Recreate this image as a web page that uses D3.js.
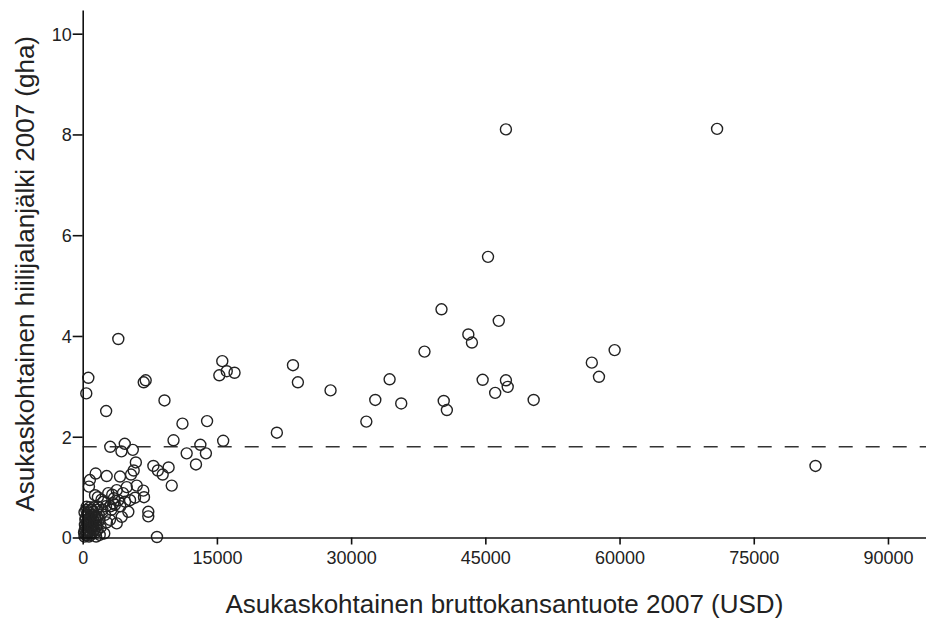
<!DOCTYPE html>
<html>
<head>
<meta charset="utf-8">
<script src="https://cdn.jsdelivr.net/npm/d3@7"></script>
<style>
	body { margin: 0; background: white; }
	text { font-family: Arial, "Liberation Sans", sans-serif; fill: #222; }
</style>
</head>
<body>
<div id="outer"></div>
<script>

////////////////////////////////////////////////////////////////
	// DATA
////////////////////////////////////////////////////////////////
const gdpPerCapita = [
	47300, 70900, 45300, 40100, 46500, 43100, 43500, 38200, 34300, 35600,
	44700, 47300, 47500, 46100, 50400, 40350, 40700, 56900, 59450, 57700,
	81900, 23500, 24050, 27700, 32700, 31700, 21700, 15600, 16100, 15270,
	16970, 9140, 11150, 13900, 10150, 15700, 13150, 11620, 13770, 12660,
	9600, 8940, 9950, 8300, 3980, 630, 400, 6820, 7040, 2620,
	4700, 3080, 4330, 5600, 5940, 5700, 7900, 8400, 7330, 7330,
	1450, 2680, 800, 4170, 5400, 700, 3800, 6040, 6770, 5850,
	6850, 2860, 2300, 1380, 4730, 3980, 5100, 4360, 3800, 2490,
	2410, 630, 1180, 450, 1740, 4920, 5290, 3420, 3050, 1180,
	300, 400, 500, 600, 700, 800, 900, 1000, 1100, 1200,
	350, 450, 550, 650, 750, 850, 950, 1050, 1300, 1400,
	1500, 1600, 1700, 1800, 2000, 250, 300, 600, 900, 1250,
	2200, 1900, 1500, 700, 200, 2700, 2600, 3200, 3600, 2100,
	1700, 3100, 3500, 4200, 3300, 4500,
	150, 250, 350, 450, 550, 650, 750, 850, 950, 1050,
	1150, 1350, 1450, 1650, 1850, 200, 400, 800, 1100, 1600
];

const footprintPerCapita = [
	8.10, 8.11, 5.57, 4.53, 4.30, 4.03, 3.87, 3.69, 3.14, 2.66,
	3.13, 3.12, 2.99, 2.87, 2.73, 2.71, 2.53, 3.47, 3.72, 3.19,
	1.42, 3.42, 3.08, 2.92, 2.73, 2.30, 2.08, 3.50, 3.30, 3.22,
	3.27, 2.72, 2.26, 2.31, 1.93, 1.92, 1.84, 1.67, 1.67, 1.45,
	1.39, 1.25, 1.03, 0.01, 3.94, 3.17, 2.86, 3.08, 3.12, 2.51,
	1.86, 1.80, 1.71, 1.74, 1.49, 1.33, 1.42, 1.33, 0.51, 0.42,
	1.27, 1.22, 1.14, 1.21, 1.25, 1.01, 0.94, 1.03, 0.93, 0.79,
	0.80, 0.88, 0.71, 0.84, 0.71, 0.74, 0.51, 0.41, 0.28, 0.45,
	0.08, 0.28, 0.51, 0.61, 0.61, 1.00, 0.74, 0.68, 0.35, 0.35,
	0.05, 0.10, 0.08, 0.15, 0.12, 0.20, 0.05, 0.18, 0.10, 0.25,
	0.20, 0.30, 0.25, 0.35, 0.40, 0.30, 0.45, 0.32, 0.15, 0.40,
	0.22, 0.55, 0.30, 0.45, 0.20, 0.15, 0.35, 0.50, 0.55, 0.60,
	0.55, 0.05, 0.02, 0.02, 0.02, 0.30, 0.62, 0.55, 0.65, 0.75,
	0.80, 0.62, 0.78, 0.62, 0.85, 0.88,
	0.10, 0.25, 0.40, 0.05, 0.45, 0.10, 0.28, 0.08, 0.22, 0.55,
	0.20, 0.30, 0.10, 0.15, 0.35, 0.50, 0.55, 0.60, 0.45, 0.42
];

const xTicks = [0, 15000, 30000, 45000, 60000, 75000, 90000];
const yTicks = [0, 2, 4, 6, 8, 10];
const referenceLevel = [1.8];   // dashed line (gha)

const xTitle = 'Asukaskohtainen bruttokansantuote 2007 (USD)';
const yTitle = 'Asukaskohtainen hiilijalanjälki 2007 (gha)';

////////////////////////////////////////////////////////////////
	// SIZING
////////////////////////////////////////////////////////////////
const width = 926;
const height = 621;
const plot = { left: 82.7, right: 926, top: 10, bottom: 537.5 };

const x = d3.scaleLinear().domain([0, 94250]).range([plot.left, plot.right]);
const y = d3.scaleLinear().domain([0, 10.47]).range([plot.bottom, plot.top]);

////////////////////////////////////////////////////////////////
	// RENDER
////////////////////////////////////////////////////////////////
const svg = d3.select('#outer').append('svg')
	.attr('width', width)
	.attr('height', height);

svg.append('rect')
	.attr('width', width)
	.attr('height', height)
	.attr('fill', 'white');

// REFERENCE LINE //
svg.selectAll('.refLine')
	.data(referenceLevel)
	.join('line')
	.attr('class', 'refLine')
	.attr('x1', plot.left)
	.attr('x2', plot.right)
	.attr('y1', d => y(d))
	.attr('y2', d => y(d))
	.attr('stroke', '#333')
	.attr('stroke-width', 1.5)
	.attr('stroke-dasharray', '14,13');

// POINTS //
const points = gdpPerCapita.map((g, i) => ({ gdp: g, fp: footprintPerCapita[i] }));

svg.append('g').attr('class', 'points')
	.selectAll('circle')
	.data(points)
	.join('circle')
	.attr('cx', d => x(d.gdp))
	.attr('cy', d => y(d.fp))
	.attr('r', 5.5)
	.attr('fill', 'none')
	.attr('stroke', '#222')
	.attr('stroke-width', 1.4);

// AXES //
const xAxis = svg.append('g')
	.attr('transform', `translate(0, ${plot.bottom})`)
	.call(d3.axisBottom(x).tickValues(xTicks).tickFormat(d3.format('d')).tickSize(7).tickSizeOuter(0));

const yAxis = svg.append('g')
	.attr('transform', `translate(${plot.left}, 0)`)
	.call(d3.axisLeft(y).tickValues(yTicks).tickFormat(d3.format('d')).tickSize(10).tickSizeOuter(0));

[xAxis, yAxis].forEach(ax => {
	ax.select('.domain').attr('stroke', '#111').attr('stroke-width', 1.6);
	ax.selectAll('.tick line').attr('stroke', '#111').attr('stroke-width', 1.6);
	ax.selectAll('.tick text')
		.attr('font-size', '18px')
		.attr('font-family', 'Arial, "Liberation Sans", sans-serif')
		.attr('fill', '#222');
});
xAxis.selectAll('.tick text').attr('dy', '0.9em');
yAxis.selectAll('.tick text').attr('x', -11).attr('dy', '0.36em');

// TITLES //
svg.append('text')
	.attr('x', (plot.left + plot.right) / 2)
	.attr('y', 613)
	.attr('text-anchor', 'middle')
	.attr('font-size', '26px')
	.attr('fill', '#333')
	.text(xTitle);

svg.append('text')
	.attr('transform', `translate(34, ${(plot.top + plot.bottom) / 2}) rotate(-90)`)
	.attr('text-anchor', 'middle')
	.attr('font-size', '26px')
	.attr('fill', '#333')
	.text(yTitle);

</script>
</body>
</html>
